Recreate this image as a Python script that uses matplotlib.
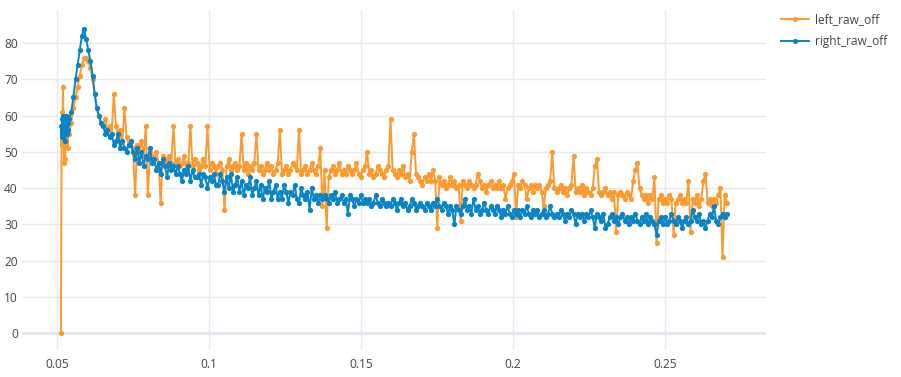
import matplotlib.pyplot as plt
import numpy as np

# start-up cluster (dense samples before the regular grid)
left_start_x = [0.0513, 0.0515, 0.0517, 0.0518, 0.0520, 0.0522, 0.0523,
                0.0525, 0.0527, 0.0529, 0.0531, 0.0533, 0.0535, 0.0537]
left_start_y = [0, 53, 61, 52, 68, 55, 47, 58, 48, 56, 53, 60, 51, 56]
right_start_x = [0.0513, 0.0515, 0.0517, 0.0519, 0.0521, 0.0523, 0.0525,
                 0.0527, 0.0529, 0.0531, 0.0533, 0.0535, 0.0537]
right_start_y = [57, 54, 59, 56, 60, 55, 58, 53, 57, 60, 55, 58, 56]

# regular samples from 0.054 to 0.2703
grid_start = 0.054
grid_end = 0.2703

left_raw_off = [
    55, 58, 62, 65, 68, 71, 74, 76, 76, 75,
    73, 70, 66, 62, 60, 58, 57, 59, 56, 57,
    55, 66, 57, 54, 56, 53, 62, 54, 52, 53,
    51, 38, 52, 50, 53, 49, 57, 38, 50, 49,
    48, 50, 47, 36, 49, 48, 46, 49, 47, 57,
    47, 48, 46, 47, 49, 45, 47, 57, 46, 48,
    47, 45, 46, 48, 46, 57, 45, 47, 46, 44,
    46, 47, 45, 34, 46, 48, 45, 46, 47, 45,
    46, 55, 45, 47, 44, 46, 45, 47, 55, 45,
    46, 44, 45, 47, 45, 46, 44, 45, 47, 56,
    44, 45, 46, 44, 45, 47, 46, 45, 56, 44,
    45, 46, 44, 45, 47, 45, 44, 46, 51, 35,
    45, 29, 43, 45, 46, 44, 45, 47, 44, 45,
    44, 46, 45, 44, 45, 47, 44, 43, 45, 46,
    50, 44, 45, 43, 44, 46, 45, 44, 43, 45,
    46, 59, 45, 44, 43, 45, 44, 46, 43, 44,
    42, 50, 55, 44, 43, 42, 41, 43, 42, 44,
    42, 45, 42, 29, 43, 41, 42, 40, 41, 43,
    41, 42, 40, 41, 31, 42, 41, 40, 42, 41,
    40, 41, 44, 42, 40, 41, 39, 41, 42, 40,
    41, 40, 42, 40, 41, 37, 40, 41, 42, 44,
    32, 41, 40, 42, 41, 37, 40, 41, 39, 41,
    40, 41, 39, 35, 40, 41, 42, 50, 40, 39,
    40, 41, 39, 40, 38, 40, 41, 49, 39, 40,
    39, 41, 38, 40, 39, 38, 40, 46, 48, 39,
    38, 39, 40, 38, 39, 37, 39, 28, 38, 39,
    38, 37, 39, 38, 37, 42, 45, 47, 40, 38,
    37, 38, 36, 38, 37, 43, 25, 37, 38, 36,
    37, 36, 38, 37, 27, 36, 37, 38, 36, 37,
    36, 42, 28, 37, 36, 38, 35, 37, 42, 44,
    36, 37, 35, 37, 36, 38, 40, 21, 38, 36,
]

right_raw_off = [
    59, 61, 65, 70, 74, 78, 82, 84, 81, 78,
    75, 71, 66, 62, 60, 58, 57, 55, 56, 54,
    55, 52, 53, 55, 51, 53, 51, 50, 52, 53,
    50, 48, 51, 47, 50, 46, 49, 48, 51, 47,
    48, 45, 47, 44, 48, 46, 43, 47, 45, 46,
    44, 46, 44, 42, 45, 44, 46, 42, 45, 43,
    43, 44, 41, 44, 43, 40, 43, 42, 44, 41,
    41, 44, 42, 39, 43, 40, 44, 39, 41, 43,
    39, 42, 38, 41, 40, 43, 38, 40, 42, 38,
    41, 37, 40, 39, 42, 37, 39, 41, 37, 39,
    37, 41, 39, 36, 39, 38, 41, 37, 36, 40,
    38, 37, 39, 34, 40, 37, 38, 36, 38, 37,
    38, 37, 36, 38, 37, 39, 36, 37, 38, 36,
    37, 33, 38, 37, 35, 37, 36, 38, 36, 37,
    36, 37, 35, 36, 38, 36, 35, 37, 36, 35,
    36, 35, 37, 36, 34, 36, 37, 35, 36, 34,
    35, 37, 36, 34, 35, 36, 35, 34, 36, 35,
    34, 36, 35, 37, 35, 34, 36, 35, 33, 35,
    34, 30, 35, 34, 33, 35, 37, 34, 35, 33,
    37, 34, 35, 33, 34, 36, 34, 33, 35, 34,
    33, 35, 34, 32, 34, 33, 35, 33, 32, 34,
    33, 34, 32, 34, 33, 35, 33, 32, 34, 33,
    34, 32, 33, 34, 32, 33, 35, 33, 32, 33,
    32, 34, 33, 31, 33, 32, 34, 33, 30, 33,
    32, 33, 31, 33, 32, 34, 32, 29, 33, 32,
    31, 33, 29, 30, 32, 33, 31, 32, 30, 32,
    33, 31, 32, 30, 32, 31, 33, 31, 30, 32,
    31, 33, 30, 32, 31, 30, 27, 31, 32, 30,
    32, 30, 31, 33, 31, 30, 32, 31, 29, 31,
    32, 30, 31, 34, 32, 31, 33, 30, 31, 29,
    31, 33, 32, 35, 31, 30, 32, 33, 32, 33,
]

y_ticks = [0, 10, 20, 30, 40, 50, 60, 70, 80]
x_ticks = [0.05, 0.1, 0.15, 0.2, 0.25]
x_tick_labels = ["0.05", "0.1", "0.15", "0.2", "0.25"]

ORANGE = "#FD9A2F"
BLUE = "#0A84C4"
GRID = "#E6E9F0"
TEXT = "#444444"

plt.rcParams["font.family"] = ["Open Sans", "DejaVu Sans"]

left_x = np.concatenate([left_start_x, np.linspace(grid_start, grid_end, len(left_raw_off))])
left_y = np.concatenate([left_start_y, left_raw_off])
right_x = np.concatenate([right_start_x, np.linspace(grid_start, grid_end, len(right_raw_off))])
right_y = np.concatenate([right_start_y, right_raw_off])

fig = plt.figure(figsize=(9.01, 3.77), dpi=100)
ax = fig.add_axes([22 / 901, 1 - 350 / 377, 744 / 901, 340 / 377])

ax.set_xlim(0.0385, 0.2832)
ax.set_ylim(-4.6, 89.1)

for v in y_ticks[1:]:
    ax.axhline(v, color=GRID, lw=1, zorder=0)
for v in x_ticks:
    ax.axvline(v, color=GRID, lw=1, zorder=0)
ax.axhline(0, color="#E1E5ED", lw=2, zorder=0.5)

ax.plot(left_x, left_y, color=ORANGE, lw=1.4, marker="o", ms=3.8,
        mew=0, label="left_raw_off", zorder=2)
ax.plot(right_x, right_y, color=BLUE, lw=1.4, marker="o", ms=3.8,
        mew=0, label="right_raw_off", zorder=3)

for side in ax.spines.values():
    side.set_visible(False)

ax.set_yticks(y_ticks)
ax.set_yticklabels([str(v) for v in y_ticks])
ax.set_xticks(x_ticks)
ax.set_xticklabels(x_tick_labels)
ax.tick_params(axis="both", length=0, labelsize=8.6, labelcolor=TEXT)
ax.tick_params(axis="y", pad=3)
ax.tick_params(axis="x", pad=6)

fig.legend(loc="upper left", bbox_to_anchor=(776 / 901, 1 - 8 / 377),
           frameon=False, fontsize=8.6, labelcolor=TEXT, handlelength=2.4,
           handletextpad=0.5, labelspacing=0.75, borderaxespad=0)

plt.savefig("out.png", dpi=100)
